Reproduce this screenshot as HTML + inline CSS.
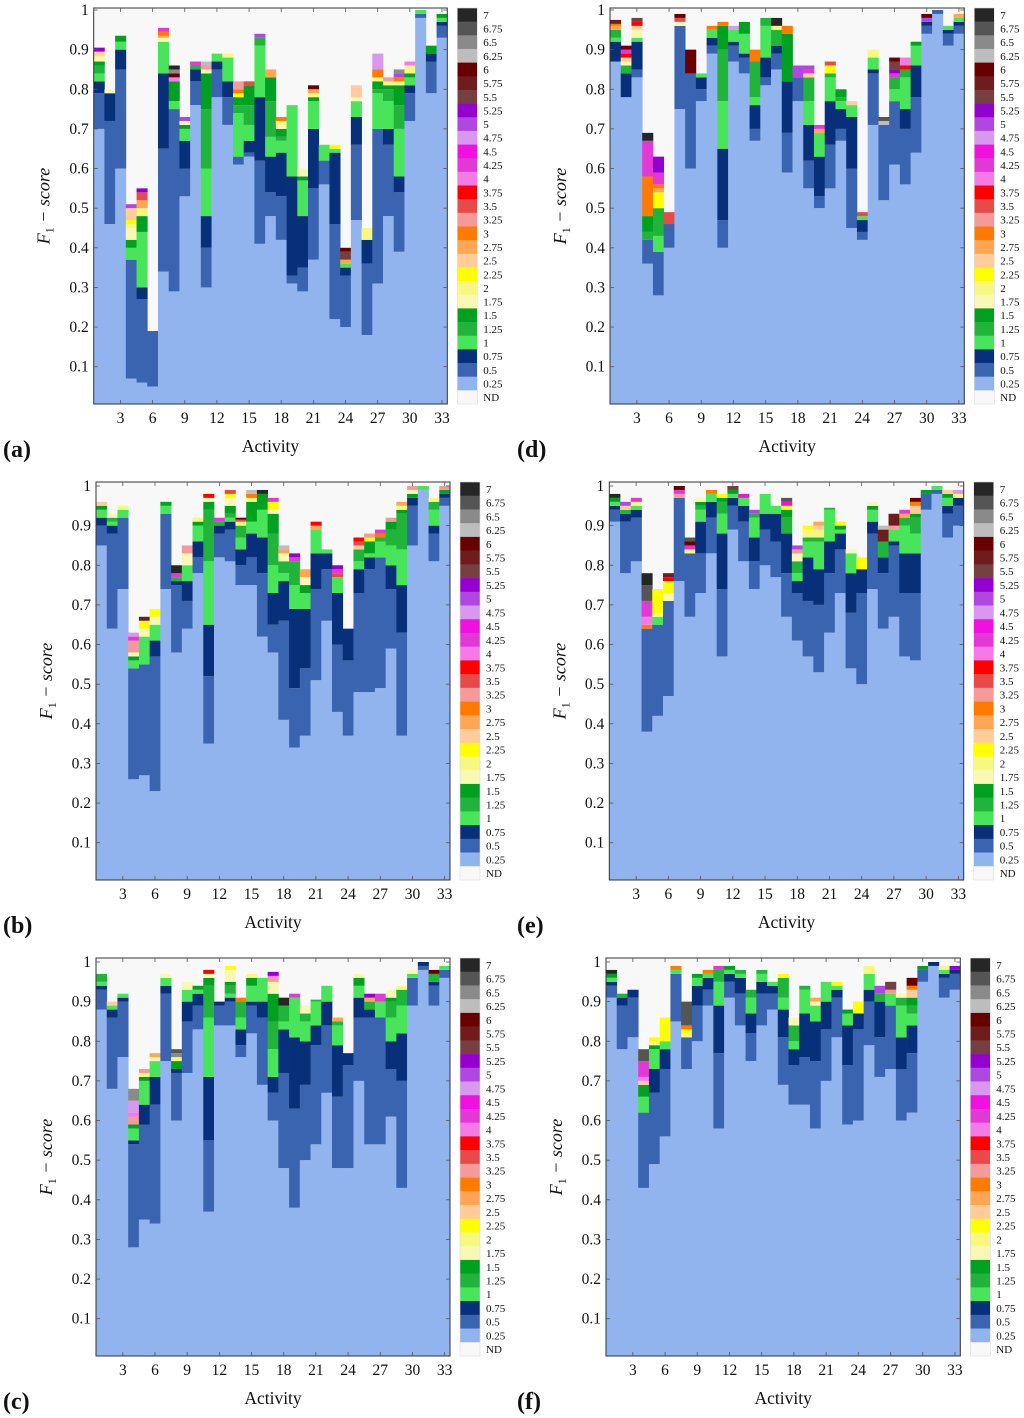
<!DOCTYPE html>
<html><head><meta charset="utf-8"><style>
html,body{margin:0;padding:0;background:#fff;}
svg{display:block;font-family:"Liberation Serif",serif;}
</style></head><body>
<svg id="fig" width="1024" height="1418" viewBox="0 0 1024 1418" xmlns="http://www.w3.org/2000/svg"></svg>
<script>
// threshold levels (legend order, top to bottom) and tick labels
const levels = [7,6.75,6.5,6.25,6,5.75,5.5,5.25,5,4.75,4.5,4.25,4,3.75,3.5,3.25,3,2.75,2.5,2.25,2,1.75,1.5,1.25,1,0.75,0.5,0.25];
const levelLabels = ["7","6.75","6.5","6.25","6","5.75","5.5","5.25","5","4.75","4.5","4.25","4","3.75","3.5","3.25","3","2.75","2.5","2.25","2","1.75","1.5","1.25","1","0.75","0.5","0.25","ND"];
const yTicks = [0.1,0.2,0.3,0.4,0.5,0.6,0.7,0.8,0.9,1];
const yTickLabels = ["0.1","0.2","0.3","0.4","0.5","0.6","0.7","0.8","0.9","1"];
const xTicks = [3,6,9,12,15,18,21,24,27,30,33];
const activities = 33;

// each activity: alternating [level, cumulative F1 top, ...]
const dataA = [
[.25,.70,.5,.79,.75,.82,1,.84,1.25,.86,1.5,.87,1.75,.88,2,.885,2.5,.895,5.25,.905],
[.25,.46,.5,.72,.75,.79,1.75,.80],
[.25,.60,.5,.85,.75,.90,1,.92,1.5,.935],
[.25,.07,.5,.37,1,.40,1.5,.42,1.75,.45,2,.46,2.25,.47,2.5,.50,5,.51],
[.25,.06,.5,.27,.75,.30,1,.44,1.5,.48,2,.50,2.75,.52,3.5,.54,5.25,.55],
[.25,.05,.5,.19],
[.25,.34,.5,.65,.75,.84,1,.92,1.75,.93,2.75,.935,3,.945,4.25,.955],
[.25,.29,.5,.75,1,.77,1.5,.82,4,.83,6,.84,6.5,.85,7,.86],
[.25,.53,.5,.60,.75,.67,1,.70,1.5,.71,1.75,.72,5,.73],
[.25,.76,.5,.82,.75,.85,1.25,.86,4.25,.87],
[.25,.30,.5,.40,.75,.48,1,.60,1.25,.75,1.5,.84,1.75,.85,3.25,.86,6.25,.87],
[.25,.78,.5,.85,.75,.87,1,.89],
[.25,.71,.5,.78,.75,.82,1,.88,2,.89],
[.25,.61,.5,.63,1,.74,1.25,.76,1.5,.78,2.25,.79,3,.80,3.25,.82],
[.25,.63,.5,.64,.75,.67,1,.71,1.25,.76,1.5,.81,3.5,.82],
[.25,.41,.5,.62,.75,.78,1,.91,1.25,.93,5,.94],
[.25,.48,.5,.54,.75,.63,1,.68,1.25,.77,1.5,.83,2.75,.85],
[.25,.42,.5,.53,.75,.64,1,.67,1.25,.68,1.5,.70,1.75,.71,2,.72,3,.73],
[.25,.31,.5,.33,.75,.58,1,.76],
[.25,.29,.5,.35,.75,.48,1,.57,1.5,.58,1.75,.60],
[.25,.37,.5,.55,.75,.70,1,.77,1.5,.78,2,.79,2.75,.80,6,.81],
[.25,.56,.5,.62,1,.66],
[.25,.22,.5,.46,.75,.64,1,.65,2.25,.66],
[.25,.20,.5,.33,.75,.35,1,.36,2.75,.37,5.5,.39,6,.40],
[.25,.47,.5,.66,.75,.73,1,.77,1.75,.78,2.5,.81],
[.25,.18,.5,.36,.75,.42,2,.45],
[.25,.31,.5,.70,1,.79,1.25,.80,1.5,.82,2,.83,3,.85,4.75,.89],
[.25,.48,.5,.66,.75,.70,1,.77,1.25,.80,1.5,.81,2,.82,3.25,.83],
[.25,.39,.5,.54,.75,.58,1,.70,1.25,.76,1.5,.81,2,.82,3,.83,5,.84,6.5,.85],
[.25,.72,.5,.79,.75,.81,1,.83,1.5,.84,2,.86,4,.87],
[.25,.98,.5,.99,1,1.0],
[.25,.79,.5,.87,.75,.89,1.5,.91],
[.25,.93,.5,.96,.75,.97,1,.98,1.5,.99]];

const dataB = [
[.25,.85,.5,.90,.75,.92,1,.94,1.5,.95,2.5,.96],
[.25,.64,.5,.88,.75,.90,1,.91,1.25,.92,1.75,.93],
[.25,.74,.5,.92,1,.94,2,.95],
[.25,.26,.5,.54,1,.56,1.5,.57,1.75,.58,3.25,.61,4.25,.62,4.75,.63],
[.25,.27,.5,.55,1,.62,1.75,.64,2.25,.66,5.75,.67],
[.25,.23,.5,.57,.75,.61,1,.65,1.75,.67,2.25,.69],
[.25,.74,.5,.93,1,.95,1.5,.96],
[.25,.58,.5,.75,.75,.76,1.25,.77,4.25,.78,7,.80],
[.25,.64,.5,.71,.75,.76,1,.80,1.75,.83,3.25,.85],
[.25,.78,.5,.82,.75,.86,1,.90,1.5,.91,2,.92],
[.25,.35,.5,.52,.75,.65,1,.81,1.25,.94,1.5,.96,1.75,.97,3.75,.98],
[.25,.82,.5,.88,.75,.90,1.25,.91,4.25,.92],
[.25,.81,.5,.89,.75,.91,1,.92,1.25,.93,1.5,.95,1.75,.97,2.25,.98,3.5,.99],
[.25,.75,.5,.80,.75,.84,1,.87,1.25,.90,2,.91,3.5,.915,6,.92],
[.25,.75,.5,.82,.75,.88,1,.91,1.5,.96,2,.97,3,.98,6.25,.99],
[.25,.62,.5,.78,.75,.87,1,.94,1.5,.98,7,.99],
[.25,.58,.5,.65,.75,.73,1,.80,1.25,.88,1.5,.93,1.75,.94,2.25,.96,4.25,.97],
[.25,.41,.5,.66,.75,.76,1,.78,1.25,.81,1.75,.83,2.75,.84,6.25,.85],
[.25,.34,.5,.49,.75,.69,1,.75,1.25,.81,4.25,.82,5.25,.83],
[.25,.37,.5,.54,.75,.69,1,.73,1.5,.75,1.75,.77,2.75,.79],
[.25,.51,.5,.74,.75,.83,1,.89,2.75,.90,3.75,.91],
[.25,.66,.5,.79,.75,.83,1,.84],
[.25,.43,.5,.60,.75,.73,1,.77,3.5,.78,4.25,.79,5.25,.80],
[.25,.37,.5,.56,.75,.64],
[.25,.48,.5,.73,.75,.79,1,.81,1.25,.84,2.5,.85,3.5,.86,3.75,.87],
[.25,.48,.5,.79,.75,.82,1,.83,1.5,.86,2.25,.87,3.25,.88],
[.25,.49,.5,.82,1,.86,1.25,.87,3,.88,4.25,.89],
[.25,.59,.5,.74,.75,.80,1,.85,1.25,.89,1.5,.91,3.25,.92],
[.25,.37,.5,.63,.75,.75,1,.84,1.25,.93,1.5,.94,2,.95,2.75,.96],
[.25,.85,.5,.95,.75,.97,1.5,.98,1.75,.99,3.25,1.0],
[.25,.99,1,1.0],
[.25,.81,.5,.88,.75,.90,1,.94,1.25,.96,2,.97],
[.25,.95,.5,.97,.75,.98,1.5,.99,3.25,1.0]];

const dataC = [
[.25,.88,.5,.93,.75,.94,1,.95,1.25,.97],
[.25,.68,.5,.86,.75,.88,1,.89,2.5,.90],
[.25,.76,.5,.90,.75,.91,1,.92],
[.25,.28,.5,.54,.75,.55,1,.58,1.5,.59,3.25,.61,4,.62,4.75,.65,6.5,.68],
[.25,.35,.5,.59,.75,.64,1,.70,1.5,.71,2,.72,3.25,.73],
[.25,.34,.5,.64,.75,.71,1,.75,1.75,.76,2.75,.77],
[.25,.75,.5,.92,.75,.94,1,.96,1.75,.97],
[.25,.60,.5,.72,.75,.73,1.5,.75,2,.76,6.5,.77,6.75,.78],
[.25,.72,.5,.85,.75,.90,1,.93,1.75,.95],
[.25,.83,.5,.89,.75,.92,1,.93,1.5,.94],
[.25,.37,.5,.55,.75,.71,1,.86,1.25,.94,1.5,.96,1.75,.97,3.75,.98],
[.25,.84,.5,.89,.75,.90],
[.25,.84,.5,.90,.75,.91,1,.92,1.25,.94,1.5,.95,1.75,.98,2.25,.99],
[.25,.76,.5,.79,.75,.83,1,.86,1.25,.90,3,.91],
[.25,.82,.5,.89,.75,.90,1,.94,1.5,.96,2,.97],
[.25,.69,.5,.86,.75,.90,1,.96],
[.25,.60,.5,.67,.75,.71,1,.78,1.25,.85,1.5,.92,1.75,.95,3.25,.96,4,.965,5.25,.975],
[.25,.48,.5,.72,.75,.83,1,.85,1.25,.89,7,.91],
[.25,.38,.5,.63,.75,.81,1,.91,4.25,.92],
[.25,.50,.5,.69,.75,.80,1,.85,1.25,.87,1.75,.89],
[.25,.54,.5,.79,.75,.84,1,.90,1.25,.905],
[.25,.67,.5,.84,.75,.90,1,.94],
[.25,.48,.5,.66,.75,.79,1,.84,1.25,.85,2.75,.86],
[.25,.48,.5,.74,.75,.77],
[.25,.70,.5,.86,.75,.91,1,.94,1.5,.96,1.75,.97],
[.25,.54,.5,.86,.75,.88,1.25,.90,2.75,.91,5.25,.92],
[.25,.54,.5,.86,1,.90,4.25,.92],
[.25,.61,.5,.73,.75,.80,1,.86,1.25,.90,1.5,.91,1.75,.93],
[.25,.43,.5,.70,.75,.82,1,.89,1.25,.93,2,.94],
[.25,.89,.5,.96,1,.97,1.75,.98],
[.25,.98,.5,.99,.75,1.0],
[.25,.89,.5,.94,.75,.95,1.25,.97,6,.98],
[.25,.96,.5,.98,1,.99]];

const dataD = [
[.25,.87,.75,.92,1,.93,1.25,.95,2.75,.96,3,.965,5.75,.975],
[.25,.78,.75,.84,1.25,.86,1.75,.87,2.5,.88,3.75,.89,4.25,.90,6,.91],
[.25,.83,.5,.85,.75,.92,1,.93,1.75,.95,2.5,.96,3.75,.97,5.5,.98],
[.25,.36,.5,.42,1.25,.44,1.5,.48,3,.58,4.25,.67,7,.69],
[.25,.28,.5,.39,1,.43,1.25,.50,2.25,.54,2.75,.55,3,.56,4.25,.59,5.25,.63],
[.25,.40,.5,.46,3.5,.49],
[.25,.75,.5,.96,1.75,.97,3.5,.98,6,.99],
[.25,.60,.5,.84,6,.90],
[.25,.77,.5,.80,.75,.83,1,.84],
[.25,.89,.5,.91,.75,.93,1,.95,3,.96],
[.25,.40,.5,.47,.75,.65,1,.77,1.25,.90,1.5,.96,3,.97],
[.25,.87,.5,.91,.75,.92,1,.95,4.75,.96],
[.25,.84,.5,.88,.75,.89,1,.94,1.5,.97],
[.25,.67,.5,.70,.75,.76,1,.78,1.25,.87,3,.90],
[.25,.81,.5,.83,.75,.88,1,.96,1.25,.98],
[.25,.85,.5,.89,.75,.91,1.25,.95,2,.96,7,.98],
[.25,.59,.5,.69,.75,.82,1.5,.94,3,.96],
[.25,.77,.5,.83,5,.86],
[.25,.55,.5,.62,.75,.71,1,.77,1.25,.83,2.5,.84,4.25,.85,5,.86],
[.25,.50,.5,.53,.75,.63,1,.69,2.75,.70,4.25,.71],
[.25,.55,.5,.66,.75,.77,1,.83,1.25,.84,2.25,.86,3.5,.87],
[.25,.67,.5,.70,.75,.75,1,.77,1.25,.78,1.5,.80],
[.25,.45,.5,.60,.75,.73,1,.76,2.5,.77],
[.25,.42,.5,.44,.75,.47,1,.48,3.5,.49],
[.25,.71,.5,.84,.75,.85,1,.88,2,.90],
[.25,.52,.5,.71,6.25,.72,6.75,.73],
[.25,.61,.5,.77,1,.80,1.25,.83,4.25,.84,5.25,.85,5.5,.87,6,.88],
[.25,.56,.5,.70,.75,.75,1,.83,1.25,.85,3.75,.86,4,.88],
[.25,.64,.5,.78,.75,.86,1,.91,1.5,.92],
[.25,.94,.5,.96,.75,.97,5,.98,6,.99],
[.25,.99,.5,1.0],
[.25,.91,.5,.94,.75,.95,1,.96],
[.25,.94,.5,.96,.75,.97,1,.98,2.75,.99]];

const dataE = [
[.25,.91,.5,.94,.75,.95,1,.96,1.5,.97,7,.98],
[.25,.78,.5,.91,.75,.93,1.25,.94,2.5,.95,5,.96],
[.25,.81,.5,.92,.75,.94,1,.95,2,.96,4.25,.97],
[.25,.38,.5,.64,3,.65,4,.67,4.25,.71,6.75,.75,7,.78],
[.25,.42,.5,.65,1,.67,2,.68,2.25,.74],
[.25,.47,.5,.71,1.75,.73,2.25,.76,3.75,.77,5.75,.78],
[.25,.76,.5,.97,3.25,.98,4.25,.99,6,1.0],
[.25,.67,.5,.83,2,.84,4.25,.85,6,.86,6.75,.87],
[.25,.73,.5,.83,.75,.91,1,.94,1.25,.95,1.5,.96,1.75,.97],
[.25,.83,.5,.92,.75,.96,1,.98,3,.99],
[.25,.57,.5,.74,.75,.88,1,.93,1.25,.96,1.5,.97,2.25,.98],
[.25,.89,.5,.95,.75,.97,1,.98,1.5,.99,5.5,1.0],
[.25,.81,.5,.91,.75,.95,1,.97,4.5,.98],
[.25,.74,.5,.81,.75,.87,1,.92,1.25,.93,5,.94],
[.25,.80,.5,.89,.75,.93,1,.98],
[.25,.77,.5,.86,.75,.93,1,.95],
[.25,.67,.5,.78,.75,.88,1.25,.92,1.5,.94,2.25,.95,4.5,.96,6.75,.97],
[.25,.61,.5,.73,.75,.76,1,.78,1.25,.81,1.75,.83,3.25,.84,5,.85],
[.25,.57,.5,.71,.75,.82,1,.86,1.25,.87,2,.89,2.25,.90],
[.25,.53,.5,.70,.75,.79,1,.86,1.25,.87,2,.89,2.5,.90,2.75,.91],
[.25,.63,.5,.78,.75,.86,1,.94,1.25,.945],
[.25,.73,.5,.84,.75,.88,1,.89,1.5,.90,2.25,.91],
[.25,.54,.5,.68,.75,.78,1,.83,1.75,.84],
[.25,.50,.5,.73,.75,.79,2.25,.82],
[.25,.74,.5,.88,.75,.91,1,.94,1.5,.95,1.75,.96],
[.25,.64,.5,.78,.75,.82,1.25,.86,5.75,.89,6.25,.90],
[.25,.67,.5,.85,.75,.86,1,.89,3.25,.90,5.75,.93],
[.25,.57,.5,.73,.75,.83,1,.90,1.25,.92,2.75,.93,4.25,.94],
[.25,.56,.5,.73,.75,.83,1,.88,1.25,.92,1.5,.93,2.5,.95,3,.96,6,.97],
[.25,.94,.5,.98,1.5,.99],
[.25,.98,.5,.99,1,1.0],
[.25,.87,.5,.93,.75,.95,1,.97,1.5,.98,2.5,.99],
[.25,.90,.5,.95,.75,.97,2,.98,4.75,.99]];

const dataF = [
[.25,.91,.5,.94,.75,.95,1,.96,1.5,.97,7,.98],
[.25,.78,.5,.89,.75,.91,1.25,.92],
[.25,.81,.5,.91,.75,.93],
[.25,.43,.5,.62,1,.66,1.5,.69,2.5,.70,4,.71,4.25,.75,6.75,.78],
[.25,.49,.5,.67,.75,.73,1,.78,1.5,.79,2,.80,2.25,.81],
[.25,.56,.5,.73,.75,.78,1,.80,2.25,.86],
[.25,.85,.5,.97,1,.98,3,.99],
[.25,.73,.5,.81,2,.82,2.25,.83,3,.84,6.75,.90],
[.25,.80,.5,.89,.75,.94,1,.96,1.5,.97],
[.25,.89,.5,.93,.75,.96,1,.97,3,.98],
[.25,.58,.5,.77,.75,.89,1,.95,1.25,.98,4.25,.99],
[.25,.91,.5,.95,.75,.97,1,.98,1.5,.99],
[.25,.84,.5,.92,.75,.96,1,.97,1.25,.98],
[.25,.75,.5,.82,.75,.87,1,.91,1.25,.93],
[.25,.84,.5,.92,.75,.95,1,.97,1.25,.98],
[.25,.88,.5,.92,.75,.94,1,.95],
[.25,.69,.5,.81,.75,.88,1,.91,1.25,.96,2.25,.97],
[.25,.64,.5,.74,.75,.78,1,.80,1.25,.84,1.75,.86],
[.25,.64,.5,.76,.75,.87,1,.93,1.25,.94],
[.25,.58,.5,.75,.75,.85,1,.89,1.75,.90,2.75,.91],
[.25,.70,.5,.83,.75,.90,1,.95],
[.25,.81,.5,.91,.75,.93,1,.94,2.25,.95],
[.25,.59,.5,.74,.75,.84,1,.87,1.5,.88],
[.25,.60,.5,.83,.75,.87,2.25,.90],
[.25,.79,.5,.90,.75,.93,1,.97,2,.99],
[.25,.71,.5,.81,.75,.90,1.25,.92,5,.94],
[.25,.73,.5,.89,1,.92,3.25,.93,5.5,.95],
[.25,.60,.5,.73,.75,.81,1,.89,1.25,.91,1.75,.92],
[.25,.62,.5,.77,.75,.84,1,.87,1.25,.89,1.5,.91,2.5,.93,3,.94,6,.96],
[.25,.95,.5,.98,1.5,.99],
[.25,.99,.75,1.0],
[.25,.91,.5,.96,.75,.97,1,.98,2,.99],
[.25,.93,.5,.97,.75,.98,5.25,.99]];

const colorOf = {7:"#262626",6.75:"#555555",6.5:"#8a8a8a",6.25:"#bdbdbd",6:"#680000",5.75:"#6e1c1c",5.5:"#774040",5.25:"#9300d0",5:"#b048e0",4.75:"#d898ee",4.5:"#f010e0",4.25:"#e238d6",4:"#f47ae8",3.75:"#ff0000",3.5:"#e84a4a",3.25:"#f49a9a",3:"#ff7a00",2.75:"#ffa655",2.5:"#ffcc9a",2.25:"#ffff00",2:"#f8f880",1.75:"#f8f8b4",1.5:"#00a020",1.25:"#20b43a",1:"#48e55a",0.75:"#08307a",0.5:"#3a64b0",0.25:"#92b4ee",ND:"#f8f8f8"};

const panels = [
 {id:"a", data:dataA, x0:93.7, x1:447.3, top:8, bot:404, yOne:10, yPt1:366.7},
 {id:"b", data:dataB, x0:96, x1:450, top:482, bot:880, yOne:486, yPt1:842.7},
 {id:"c", data:dataC, x0:96, x1:450, top:958, bot:1356, yOne:962, yPt1:1318.7},
 {id:"d", data:dataD, x0:610, x1:964.3, top:8, bot:404, yOne:10, yPt1:366.7},
 {id:"e", data:dataE, x0:609.3, x1:963.7, top:482, bot:880, yOne:486, yPt1:842.7},
 {id:"f", data:dataF, x0:606, x1:960.3, top:958, bot:1356, yOne:962, yPt1:1318.7}
];

const NS = "http://www.w3.org/2000/svg";
const svg = document.getElementById("fig");
function mk(tag, attrs, parent){
  const e = document.createElementNS(NS, tag);
  for (const k in attrs) e.setAttribute(k, attrs[k]);
  parent.appendChild(e); return e;
}

panels.forEach(p => {
  const g = mk("g", {}, svg);
  
  
  const unit = (p.yPt1 - p.yOne) / 0.9;
  const yOf = v => Math.max(p.top, p.yOne + (1 - v) * unit);
  const bw = (p.x1 - p.x0) / activities;
  const xOf = a => p.x0 + (a - 1) * bw;

  const bg = mk("rect", {x:p.x0, y:p.top, width:p.x1-p.x0, height:p.bot-p.top, fill:colorOf.ND}, g);
  
  

  p.data.forEach((segs, i) => {
    const bar = mk("g", {}, g);
    
    
    let prev = p.bot;
    for (let k = 0; k < segs.length; k += 2) {
      const lvl = segs[k], yTop = yOf(segs[k+1]);
      if (prev - yTop <= 0) continue;
      const r = mk("rect", {x:xOf(i+1).toFixed(2), y:yTop.toFixed(2), width:(bw+0.35).toFixed(2), height:(prev-yTop).toFixed(2), fill:colorOf[lvl]}, bar);
      
      
      prev = yTop;
    }
  });

  const fr = mk("rect", {x:p.x0, y:p.top, width:p.x1-p.x0, height:p.bot-p.top, fill:"none", stroke:"#333", "stroke-width":1}, g);
  
  

  yTicks.forEach((v, i) => {
    const y = p.yOne + (1 - v) * unit;
    mk("line", {x1:p.x0, x2:p.x0+4, y1:y, y2:y, stroke:"#555", "stroke-width":0.8}, g);
    mk("line", {x1:p.x1-4, x2:p.x1, y1:y, y2:y, stroke:"#555", "stroke-width":0.8}, g);
    const t = mk("text", {x:p.x0-5, y:y+5, "font-size":15.5, "text-anchor":"end", fill:"#111"}, g);
    t.textContent = yTickLabels[i];
    
    
  });
  xTicks.forEach(a => {
    const x = xOf(a) + bw/2;
    mk("line", {x1:x, x2:x, y1:p.bot, y2:p.bot-4, stroke:"#555", "stroke-width":0.8}, g);
    mk("line", {x1:x, x2:x, y1:p.top, y2:p.top+4, stroke:"#555", "stroke-width":0.8}, g);
    const t = mk("text", {x:x, y:p.bot+19, "font-size":15.5, "text-anchor":"middle", fill:"#111"}, g);
    t.textContent = String(a);
    
    
  });
  const xt = mk("text", {x:(p.x0+p.x1)/2, y:p.bot+48, "font-size":17.5, "text-anchor":"middle", fill:"#111"}, g);
  xt.textContent = "Activity";
  
  
  const cy = (p.top + p.bot) / 2;
  const yx = p.x0 - 44;
  const yt = mk("text", {x:yx, y:cy, "font-size":18, "text-anchor":"middle", fill:"#111", "font-style":"italic", transform:`rotate(-90 ${yx} ${cy})`}, g);
  
  
  const t1 = mk("tspan", {}, yt); t1.textContent = "F";
  const t2 = mk("tspan", {"font-size":12, dy:4, "font-style":"normal"}, yt); t2.textContent = "1";
  const t3 = mk("tspan", {dy:-4}, yt); t3.textContent = " \u2212 score";

  const pl = mk("text", {x:(p.id<"d") ? 3 : 517, y:p.bot+53, "font-size":24, "font-weight":"bold", fill:"#111"}, g);
  pl.textContent = "(" + p.id + ")";
  
  

  const lg = mk("g", {}, g);
  
  
  const lx = p.x1 + 10, eh = (p.bot - p.top) / levelLabels.length;
  levelLabels.forEach((lab, i) => {
    const key = i < levels.length ? levels[i] : "ND";
    const ent = mk("g", {}, lg);
    
    
    mk("rect", {x:lx, y:p.top + i*eh, width:20, height:eh+0.3, fill:colorOf[key]}, ent);
    const t = mk("text", {x:lx+26, y:p.top + i*eh + eh/2 + 4, "font-size":11, fill:"#111"}, ent);
    t.textContent = lab;
  });
  mk("rect", {x:lx, y:p.top, width:20, height:p.bot-p.top, fill:"none", stroke:"#ddd", "stroke-width":0.6}, lg);
});
</script>
</body></html>
